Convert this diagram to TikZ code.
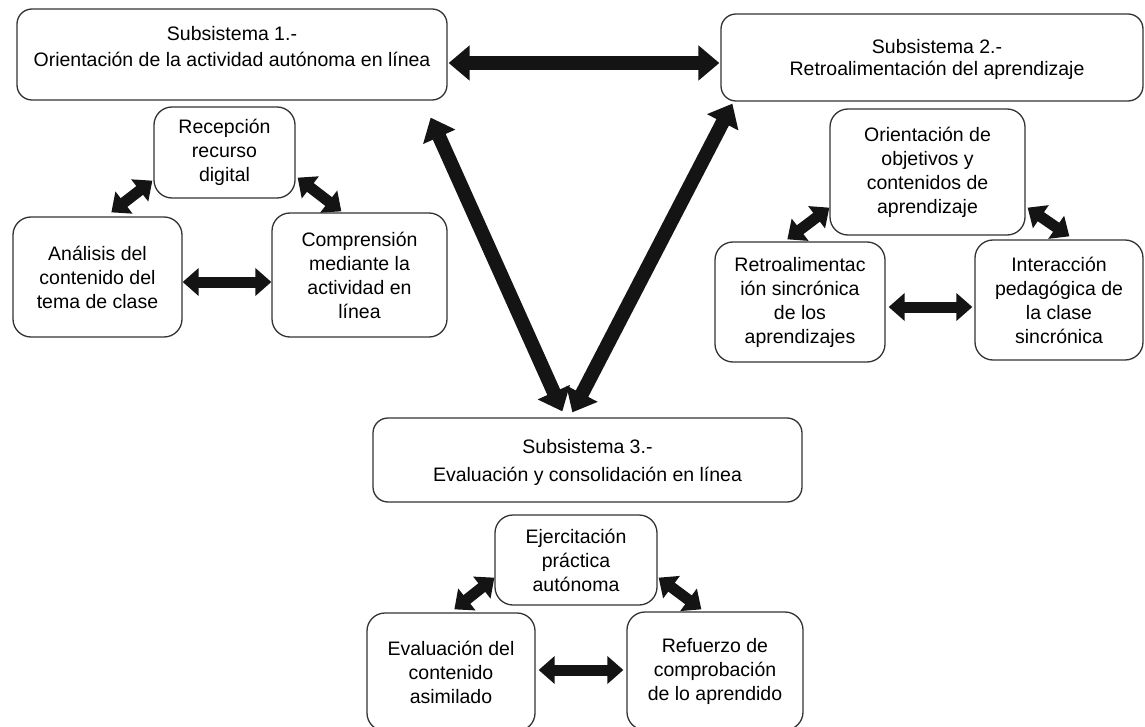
\documentclass[tikz,border=0pt]{standalone}
\usepackage{fontspec}
\setmainfont{Liberation Sans}
\usetikzlibrary{arrows.meta,calc}
\begin{document}
\begin{tikzpicture}[x=1pt,y=-1pt,
  bigbox/.style={draw=black!80, line width=1.3pt, rounded corners=15pt, inner sep=0pt},
  bigtext/.style={align=center, inner sep=0pt, font=\fontsize{19.5}{26}\selectfont},
  smallbox/.style={draw=black!80, line width=1.3pt, rounded corners=18pt, inner sep=0pt,
    align=center, font=\fontsize{19.5}{24}\selectfont},
  bigarrow/.style={line width=14pt, draw=black!92,
    {Triangle[width=34pt,length=21pt]}-{Triangle[width=34pt,length=21pt]}},
  smallarrow/.style={line width=11pt, draw=black!92,
    {Triangle[width=27pt,length=16pt]}-{Triangle[width=27pt,length=16pt]}}
]
\useasboundingbox (0,0) rectangle (1145,727);
\fill[white] (0,0) rectangle (1145,727);

% Subsystem boxes
\node[bigbox, minimum width=430pt, minimum height=91pt] (s1) at (232,54.5) {};
\node[bigtext] (s1t) at (232,47) {Subsistema 1.-\\Orientación de la actividad autónoma en línea};
\node[bigbox, minimum width=422pt, minimum height=87pt] (s2) at (932,57.5) {};
\node[bigtext, font=\fontsize{19.5}{22}\selectfont] (s2t) at (937,59) {Subsistema 2.-\\Retroalimentación del aprendizaje};
\node[bigbox, minimum width=429pt, minimum height=84pt] (s3) at (587.5,460) {};
\node[bigtext, font=\fontsize{19.5}{28}\selectfont] (s3t) at (587.5,462) {Subsistema 3.-\\Evaluación y consolidación en línea};

% Subsystem 1 components
\node[smallbox, minimum width=141pt, minimum height=91pt] (rec) at (224.5,152.5) {Recepción\\recurso\\digital};
\node[smallbox, minimum width=169pt, minimum height=120pt] (ana) at (97.5,277) {Análisis del\\contenido del\\tema de clase};
\node[smallbox, minimum width=175pt, minimum height=124pt] (com) at (359.5,275) {Comprensión\\mediante la\\actividad en\\línea};

% Subsystem 2 components
\node[smallbox, minimum width=195pt, minimum height=126pt] (ori) at (927.5,172) {Orientación de\\objetivos y\\contenidos de\\aprendizaje};
\node[smallbox, minimum width=170pt, minimum height=120pt] (ret) at (800,302) {Retroalimentac\\ión sincrónica\\de los\\aprendizajes};
\node[smallbox, minimum width=168pt, minimum height=120pt] (int) at (1059,300) {Interacción\\pedagógica de\\la clase\\sincrónica};

% Subsystem 3 components
\node[smallbox, minimum width=162pt, minimum height=90pt] (eje) at (576,560) {Ejercitación\\práctica\\autónoma};
\node[smallbox, minimum width=168pt, minimum height=118pt] (eva) at (451,672) {Evaluación del\\contenido\\asimilado};
\node[smallbox, minimum width=176pt, minimum height=118pt] (ref) at (715,671) {Refuerzo de\\comprobación\\de lo aprendido};

% Main connectors
\draw[bigarrow] ($(s1.east)+(1,8.5)$) -- ($(s2.west)+(-1,5.5)$);
\draw[bigarrow] ($(s1.south east)+(-17,17)$) -- ($(s3.north west)+(190,-6)$);
\draw[bigarrow] ($(s2.south west)+(12,2)$) -- ($(s3.north west)+(200,-5)$);

% Subsystem 1 connectors
\draw[smallarrow] ($(rec.south west)+(-1,-18)$) -- ($(ana.north west)+(99,-4)$);
\draw[smallarrow] ($(rec.south east)+(2,-21)$) -- ($(com.north west)+(70,-1)$);
\draw[smallarrow] ($(ana.east)+(0,5)$) -- ($(com.west)+(0,7)$);

% Subsystem 2 connectors
\draw[smallarrow] ($(ret.north west)+(73,-2)$) -- ($(ori.south west)+(0,-28)$);
\draw[smallarrow] ($(ori.south east)+(2,-28)$) -- ($(int.north west)+(95,-3)$);
\draw[smallarrow] ($(ret.east)+(3,5)$) -- ($(int.west)+(-2,7)$);

% Subsystem 3 connectors
\draw[smallarrow] ($(eje.south west)+(0,-28)$) -- ($(eva.north west)+(88,-3)$);
\draw[smallarrow] ($(eje.south east)+(1,-28)$) -- ($(ref.north west)+(75,-2)$);
\draw[smallarrow] ($(eva.east)+(3,-2)$) -- ($(ref.west)+(-3,-1)$);
\end{tikzpicture}
\end{document}
